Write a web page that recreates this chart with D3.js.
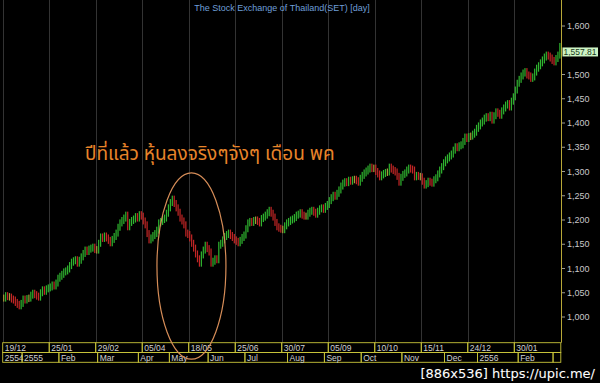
<!DOCTYPE html>
<html>
<head>
<meta charset="utf-8">
<script src="https://cdn.jsdelivr.net/npm/d3@7"></script>
<style>
  body { margin:0; background:#000; }
  svg { display:block; font-family:"Liberation Sans", Arial, sans-serif; }
</style>
</head>
<body>
<div id="chart"></div>
<script>
// SET index, daily closes 19/12/2554 -> late Feb 2556
var closes = [
  1039, 1044, 1042, 1041, 1037, 1035, 1030, 1026, 1023, 1028, 1037, 1035,
  1038, 1039, 1045, 1049, 1046, 1043, 1041, 1050, 1056, 1053, 1058, 1060,
  1062, 1066, 1064, 1070, 1080, 1084, 1088, 1093, 1095, 1099, 1106, 1113,
  1116, 1118, 1111, 1117, 1124, 1131, 1138, 1135, 1140, 1142, 1144, 1139,
  1138, 1152, 1165, 1162, 1167, 1163, 1158, 1153, 1160, 1166, 1173, 1185,
  1194, 1199, 1204, 1210, 1186, 1195, 1199, 1202, 1207, 1204, 1211, 1208,
  1198, 1190, 1172, 1159, 1163, 1168, 1172, 1179, 1194, 1197, 1201, 1204,
  1214, 1225, 1236, 1243, 1234, 1225, 1216, 1204, 1198, 1190, 1173, 1170,
  1163, 1152, 1142, 1130, 1120, 1111, 1128, 1138, 1148, 1141, 1134, 1111,
  1115, 1120, 1118, 1148, 1152, 1159, 1166, 1170, 1173, 1168, 1164, 1159,
  1156, 1153, 1158, 1164, 1169, 1182, 1194, 1197, 1195, 1199, 1200, 1197,
  1194, 1203, 1206, 1210, 1215, 1220, 1214, 1206, 1195, 1186, 1183, 1181,
  1180, 1188, 1194, 1197, 1200, 1202, 1205, 1210, 1212, 1215, 1210, 1208,
  1208, 1214, 1218, 1220, 1216, 1212, 1218, 1223, 1225, 1222, 1228, 1232,
  1240, 1246, 1251, 1249, 1255, 1262, 1270, 1276, 1279, 1277, 1282, 1280,
  1283, 1284, 1281, 1278, 1286, 1292, 1297, 1301, 1305, 1309, 1306, 1307,
  1300, 1295, 1289, 1293, 1296, 1298, 1299, 1309, 1305, 1302, 1299, 1290,
  1278, 1288, 1294, 1297, 1303, 1307, 1305, 1303, 1289, 1292, 1290, 1289,
  1280, 1272, 1275, 1280, 1278, 1276, 1283, 1287, 1295, 1303, 1310, 1318,
  1324, 1328, 1332, 1336, 1344, 1351, 1349, 1353, 1355, 1362, 1371, 1368,
  1372, 1373, 1377, 1381, 1389, 1394, 1400, 1404, 1410, 1413, 1411, 1416,
  1406, 1415, 1423, 1420, 1416, 1425, 1431, 1437, 1440, 1433, 1445, 1454,
  1468, 1482, 1490, 1497, 1503, 1506, 1499, 1497, 1492, 1495, 1505, 1513,
  1518, 1524, 1530, 1536, 1540, 1538, 1534, 1529, 1526, 1533, 1540, 1557.81
]

var dateIdx = [0, 24, 48, 72, 96, 120, 144, 168, 192, 216, 240, 264]
var dateLabels = ["19/12", "25/01", "29/02", "05/04", "18/05", "25/06",
                  "30/07", "05/09", "10/10", "15/11", "24/12", "30/01"]
var monthIdx = [0, 10, 29, 49, 70, 86, 106, 125, 147, 166, 185, 206, 228, 245, 266, 284]
var monthLabels = ["2554", "2555", "Feb", "Mar", "Apr", "May", "Jun", "Jul",
                   "Aug", "Sep", "Oct", "Nov", "Dec", "2556", "Feb", ""]
// 1,550 sits under the last-price tag, so it is not printed
var yTicks = [1000, 1050, 1100, 1150, 1200, 1250, 1300, 1350, 1400, 1450, 1500, 1600]

var title = "The Stock Exchange of Thailand(SET) [day]"
var note = "ปีที่แล้ว หุ้นลงจริงๆจังๆ เดือน พค"
var stamp = "[886x536] https://upic.me/"
// ring around the May drop, in bar index / index points
var ringIdx = [79.6, 115.2]
var ringPts = [913, 1297]

var W = 600, H = 383
var nBars = 288
var axisX = 561, plotBottom = 342.7, rowH = 9.8

var svg = d3.select("#chart").append("svg")
    .attr("width", W).attr("height", H)
svg.append("rect").attr("width", W).attr("height", H).attr("fill", "#000")

var x = d3.scaleLinear().domain([0, nBars]).range([2.7, 560.8])
var y = d3.scaleLinear().domain([1000, 1600]).range([317, 26])

// vertical grid at the date labels
svg.append("g").selectAll("line").data(dateIdx).enter().append("line")
    .attr("x1", d => Math.round(x(d)) + 0.5).attr("x2", d => Math.round(x(d)) + 0.5)
    .attr("y1", 0).attr("y2", plotBottom)
    .attr("stroke", "#333").attr("stroke-width", 1)

// bars: open is the previous close
var bars = closes.map((c, i) => ({ i: i, o: i ? closes[i - 1] : c, c: c }))
var col = d => Math.abs(d.c - d.o) < 1.5 ? "#a89a3a" : (d.c > d.o ? "#2fb52f" : "#c42626")
svg.append("g").selectAll("rect").data(bars).enter().append("rect")
    .attr("x", d => x(d.i) + 0.4)
    .attr("width", 1.2)
    .attr("y", d => y(Math.max(d.o, d.c)) - 3.5)
    .attr("height", d => Math.abs(y(d.o) - y(d.c)) + 7)
    .attr("fill", col)

// price axis
svg.append("line")
    .attr("x1", axisX + 0.5).attr("x2", axisX + 0.5).attr("y1", 0).attr("y2", plotBottom)
    .attr("stroke", "#b8a838").attr("stroke-width", 1)
var fmt = d3.format(",")
var yt = svg.append("g").selectAll("g").data(yTicks).enter().append("g")
    .attr("transform", d => `translate(${axisX},${y(d)})`)
yt.append("line").attr("x1", 1).attr("x2", 4).attr("stroke", "#999")
yt.append("text").attr("x", 6).attr("dy", "0.35em")
    .attr("font-size", 9).attr("fill", "#c8c8c8").text(d => fmt(d))

// last value tag
var last = closes[closes.length - 1]
svg.append("rect").attr("x", axisX + 1.5).attr("y", y(last) + 1)
    .attr("width", 35.5).attr("height", 9).attr("fill", "#cdf3c4")
svg.append("text").attr("x", axisX + 2.5).attr("y", y(last) + 8.8)
    .attr("font-size", 9).attr("textLength", 33).attr("lengthAdjust", "spacingAndGlyphs")
    .attr("fill", "#1a3a1a").text(d3.format(",.2f")(last))

// date boxes
function row(idx, labels, top) {
  var g = svg.append("g")
  idx.forEach((d, k) => {
    var x0 = x(d), x1 = k < idx.length - 1 ? x(idx[k + 1]) : x(nBars)
    g.append("rect").attr("x", x0).attr("y", top).attr("width", x1 - x0).attr("height", rowH)
        .attr("fill", "none").attr("stroke", "#c8c43a").attr("stroke-width", 0.9)
    g.append("text").attr("x", x0 + 2).attr("y", top + 8)
        .attr("font-size", 8.5).attr("fill", "#d0d0d0").text(labels[k])
  })
}
row(dateIdx, dateLabels, plotBottom)
row(monthIdx, monthLabels, plotBottom + rowH)

// title
svg.append("text").attr("x", 282).attr("y", 11).attr("text-anchor", "middle")
    .attr("font-size", 9).attr("fill", "#6f9fd8").text(title)

// annotation
svg.append("ellipse")
    .attr("cx", (x(ringIdx[0]) + x(ringIdx[1])) / 2)
    .attr("cy", (y(ringPts[0]) + y(ringPts[1])) / 2)
    .attr("rx", (x(ringIdx[1]) - x(ringIdx[0])) / 2)
    .attr("ry", (y(ringPts[0]) - y(ringPts[1])) / 2)
    .attr("fill", "none").attr("stroke", "#d68d58").attr("stroke-width", 1.2)
svg.append("text").attr("x", 85).attr("y", 160)
    .attr("font-family", "'Noto Sans Thai', Tahoma, 'Noto Sans', sans-serif")
    .attr("font-size", 19).attr("fill", "#e8842a").text(note)

// upload stamp
svg.append("text").attr("x", 595).attr("y", 378).attr("text-anchor", "end")
    .attr("font-family", "'DejaVu Sans', sans-serif")
    .attr("font-size", 13).attr("fill", "#fff")
    .attr("stroke", "#222").attr("stroke-width", 0.6).attr("paint-order", "stroke")
    .text(stamp)
</script>
</body>
</html>
